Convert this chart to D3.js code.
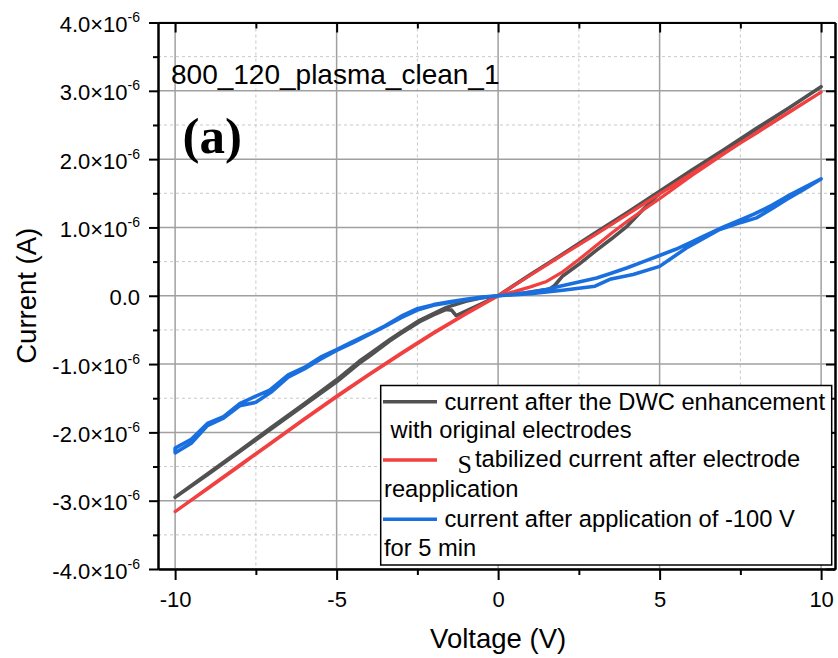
<!DOCTYPE html>
<html>
<head>
<meta charset="utf-8">
<script src="https://cdn.jsdelivr.net/npm/d3@7"></script>
<style>
  html, body { margin: 0; padding: 0; background: #fff; }
  svg { display: block; }
</style>
</head>
<body>
<svg id="chart" width="838" height="658"></svg>
<script>
// I–V sweeps, voltage in V, current in µA (axis shows ×10^-6 A)
const dwcV = [0, 0.8, 1.6, 1.75, 2.0, 2.5, 3.0, 3.5, 4.0, 4.5, 5.0, 6, 7, 8, 9, 10,
  9, 8, 7, 6, 5, 4, 3, 2, 1, 0,
  -0.5, -1.0, -1.6, -2.0, -2.43, -3.0, -3.35, -4.0, -4.3, -5, -6, -7, -8, -9, -10,
  -9, -8, -7, -6, -5, -4.3, -4.0, -3.35, -3.0, -2.43, -2.0, -1.6, -1.44, -1.3, -0.57, 0];
const dwcI = [0, 0.04, 0.10, 0.15, 0.29, 0.46, 0.65, 0.83, 1.02, 1.27, 1.50, 1.82, 2.13, 2.44, 2.75, 3.06,
  2.75, 2.45, 2.14, 1.84, 1.53, 1.22, 0.92, 0.61, 0.31, 0,
  -0.03, -0.08, -0.17, -0.26, -0.36, -0.53, -0.64, -0.86, -0.96, -1.23, -1.58, -1.92, -2.27, -2.61, -2.95,
  -2.62, -2.28, -1.94, -1.60, -1.26, -0.99, -0.89, -0.66, -0.55, -0.38, -0.28, -0.20, -0.21, -0.29, -0.13, 0];

const stabV = [0, 0.5, 1.0, 1.5, 2.0, 2.5, 3.0, 3.5, 4.0, 4.5, 5.0, 6, 7, 8, 9, 10,
  9, 8, 7, 6, 5, 4, 3, 2, 1, 0,
  -1, -2, -3, -4, -5, -6, -7, -8, -9, -10,
  -9, -8, -7, -6, -5, -4, -3, -2, -1, 0];
const stabI = [0, 0.06, 0.13, 0.21, 0.35, 0.53, 0.72, 0.91, 1.09, 1.26, 1.42, 1.76, 2.08, 2.39, 2.69, 2.98,
  2.68, 2.38, 2.09, 1.79, 1.49, 1.19, 0.89, 0.60, 0.30, 0,
  -0.27, -0.55, -0.85, -1.16, -1.48, -1.81, -2.15, -2.49, -2.83, -3.16,
  -2.82, -2.48, -2.14, -1.80, -1.47, -1.15, -0.84, -0.54, -0.26, 0];

const biasV = [0, 0.5, 1.0, 1.5, 1.91, 2.5, 3.05, 3.5, 4, 4.5, 5, 5.5, 6, 6.35, 7, 7.5, 7.9, 8.5, 8.93, 9.5, 10,
  9.44, 8.93, 8.5, 8, 7.5, 6.86, 5.83, 5.4, 5, 4.18, 3.46, 3.0, 2.5, 2, 1, 0,
  -0.5, -1, -1.5, -2, -2.5, -3, -3.5, -4, -4.5, -5, -5.5, -6, -6.5, -7.07, -7.5, -8, -8.5, -9, -9.5, -10,
  -10, -9.5, -9, -8.5, -8, -7.5, -7, -6.5, -6, -5.5, -5, -4.5, -4, -3.5, -3, -2.5, -2, -1.5, -1, -0.5, 0];
const biasI = [0, 0.02, 0.05, 0.09, 0.14, 0.20, 0.26, 0.33, 0.41, 0.50, 0.59, 0.68, 0.79, 0.87, 1.01, 1.11, 1.19, 1.33, 1.45, 1.59, 1.71,
  1.55, 1.41, 1.28, 1.14, 1.07, 0.97, 0.70, 0.56, 0.43, 0.31, 0.24, 0.14, 0.11, 0.08, 0.03, 0,
  -0.02, -0.05, -0.09, -0.13, -0.19, -0.30, -0.44, -0.56, -0.67, -0.79, -0.90, -1.05, -1.16, -1.38, -1.47, -1.58, -1.77, -1.87, -2.10, -2.23,
  -2.30, -2.16, -1.90, -1.79, -1.61, -1.56, -1.40, -1.19, -1.07, -0.93, -0.80, -0.69, -0.57, -0.45, -0.32, -0.21, -0.14, -0.10, -0.06, -0.03, 0];

const xMajor = [-10, -5, 0, 5, 10];
const xMinor = [-7.5, -2.5, 2.5, 7.5];
const yMajor = [-4, -3, -2, -1, 0, 1, 2, 3, 4];
const yMinor = [-3.5, -2.5, -1.5, -0.5, 0.5, 1.5, 2.5, 3.5];

const seriesColors = ["#515151", "#F14040", "#1A6FDF"];

const SANS = "Arial, 'Liberation Sans', sans-serif";
const SERIF = "'Times New Roman', 'Liberation Serif', serif";

const svg = d3.select("#chart");
const L = 158, R = 835, T = 22.5, B = 569;

const x = d3.scaleLinear().domain([-10.53, 10.43]).range([L, R]);
const y = d3.scaleLinear().domain([-4, 4]).range([B, T]);

// grid
const grid = svg.append("g");
grid.selectAll(".gxm").data(xMinor).join("line")
  .attr("x1", d => x(d)).attr("x2", d => x(d)).attr("y1", T).attr("y2", B)
  .attr("stroke", "#c8c8c8").attr("stroke-width", 1).attr("stroke-dasharray", "3,3");
grid.selectAll(".gym").data(yMinor).join("line")
  .attr("y1", d => y(d)).attr("y2", d => y(d)).attr("x1", L).attr("x2", R)
  .attr("stroke", "#c8c8c8").attr("stroke-width", 1).attr("stroke-dasharray", "3,3");
grid.selectAll(".gxM").data(xMajor).join("line")
  .attr("x1", d => x(d)).attr("x2", d => x(d)).attr("y1", T).attr("y2", B)
  .attr("stroke", "#a0a0a0").attr("stroke-width", 1.5);
grid.selectAll(".gyM").data(yMajor).join("line")
  .attr("y1", d => y(d)).attr("y2", d => y(d)).attr("x1", L).attr("x2", R)
  .attr("stroke", "#a0a0a0").attr("stroke-width", 1.5);

// curves
const line = d3.line().x(d => x(d[0])).y(d => y(d[1]));
const series = [
  { v: dwcV, i: dwcI, w: 3.6 },
  { v: stabV, i: stabI, w: 3.2 },
  { v: biasV, i: biasI, w: 3.6 }
];
series.forEach((s, k) => {
  svg.append("path")
    .datum(d3.zip(s.v, s.i))
    .attr("d", line)
    .attr("fill", "none")
    .attr("stroke", seriesColors[k])
    .attr("stroke-width", s.w)
    .attr("stroke-linejoin", "round");
});

// axes
function styleAxis(g) {
  g.selectAll("path.domain").attr("stroke", "#000").attr("stroke-width", 2);
  g.selectAll(".tick line").attr("stroke", "#000").attr("stroke-width", 2);
  g.selectAll("text").attr("font-size", 22).attr("fill", "#000").style("font-family", SANS);
}
const hyphenFormat = d => String(d).replace("\u2212", "-");

// bottom
svg.append("g").attr("transform", `translate(0,${B})`)
  .call(d3.axisBottom(x).tickValues(xMajor).tickSize(11).tickSizeOuter(0).tickPadding(11).tickFormat(hyphenFormat))
  .call(styleAxis);
svg.append("g").attr("transform", `translate(0,${B})`)
  .call(d3.axisBottom(x).tickValues(xMinor).tickSize(6).tickSizeOuter(0).tickFormat(""))
  .call(styleAxis);
// top (inward ticks)
svg.append("g").attr("transform", `translate(0,${T})`)
  .call(d3.axisBottom(x).tickValues(xMajor).tickSize(10).tickSizeOuter(0).tickFormat(""))
  .call(styleAxis);
svg.append("g").attr("transform", `translate(0,${T})`)
  .call(d3.axisBottom(x).tickValues(xMinor).tickSize(6).tickSizeOuter(0).tickFormat(""))
  .call(styleAxis);
// left
const yAxisG = svg.append("g").attr("transform", `translate(${L},0)`)
  .call(d3.axisLeft(y).tickValues(yMajor).tickSize(9).tickSizeOuter(0).tickPadding(9).tickFormat(""))
  .call(styleAxis);
svg.append("g").attr("transform", `translate(${L},0)`)
  .call(d3.axisLeft(y).tickValues(yMinor).tickSize(5).tickSizeOuter(0).tickFormat(""))
  .call(styleAxis);
yAxisG.selectAll(".tick text").each(function(d) {
  const t = d3.select(this);
  t.text(null).attr("dy", "0.41em");
  if (d === 0) {
    t.append("tspan").text("0.0");
  } else {
    t.append("tspan").text(d.toFixed(1) + "\u00d710");
    t.append("tspan").attr("font-size", 14).attr("dy", -10).text("-6");
  }
});
// right (inward ticks)
svg.append("g").attr("transform", `translate(${R},0)`)
  .call(d3.axisLeft(y).tickValues(yMajor).tickSize(9).tickSizeOuter(0).tickFormat(""))
  .call(styleAxis);
svg.append("g").attr("transform", `translate(${R},0)`)
  .call(d3.axisLeft(y).tickValues(yMinor).tickSize(5).tickSizeOuter(0).tickFormat(""))
  .call(styleAxis);

// axis titles
svg.append("text").attr("x", (x(-10) + x(10)) / 2).attr("y", 648).style("font-family", SANS)
  .attr("text-anchor", "middle").attr("font-size", 27.5).text("Voltage (V)");
svg.append("text").attr("transform", `translate(36,${y(0)}) rotate(-90)`).style("font-family", SANS)
  .attr("text-anchor", "middle").attr("font-size", 27.5).text("Current (A)");

// annotations
svg.append("text").attr("x", 171).attr("y", 83.5).attr("font-size", 28).style("font-family", SANS)
  .text("800_120_plasma_clean_1");
svg.append("text").attr("x", 182.5).attr("y", 153)
  .style("font-family", SERIF)
  .attr("font-weight", "bold").attr("font-size", 51).text("(a)");

// legend
const lg = svg.append("g");
lg.append("rect").attr("x", 380.7).attr("y", 385.5).attr("width", 451).attr("height", 179.5)
  .attr("fill", "#fff").attr("stroke", "#000").attr("stroke-width", 1.5);
const legendRows = [401.7, 460, 519.3];
legendRows.forEach((ly, k) => {
  lg.append("line").attr("x1", 383).attr("x2", 437).attr("y1", ly).attr("y2", ly)
    .attr("stroke", seriesColors[k]).attr("stroke-width", 3.5);
});
const fs = 23.7;
const addText = (tx, ty, str) => lg.append("text").attr("x", tx).attr("y", ty)
  .attr("font-size", fs).style("font-family", SANS).style("white-space", "pre").text(str);
addText(444.5, 409.5, "current after the DWC enhancement");
addText(384, 438, " with original electrodes");
lg.append("text").attr("x", 457.5).attr("y", 473)
  .style("font-family", SERIF).attr("font-size", 26).text("S");
addText(475, 467, "tabilized current after electrode");
addText(384, 496.5, "reapplication");
addText(444.5, 526.5, "current after application of -100 V");
addText(384, 556, "for 5 min");
</script>
</body>
</html>
